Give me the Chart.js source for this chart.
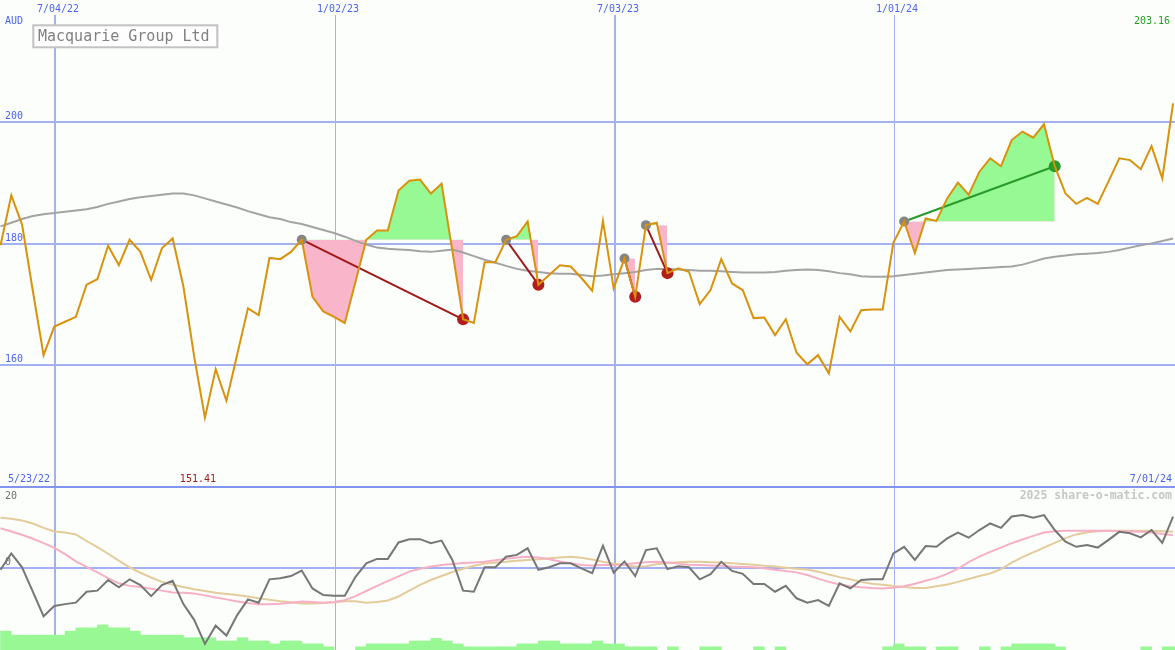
<!DOCTYPE html>
<html>
<head>
<meta charset="utf-8">
<title>Macquarie Group Ltd</title>
<script src="https://cdn.jsdelivr.net/npm/chart.js@4.4.1/dist/chart.umd.min.js"></script>
<style>
  html, body { margin: 0; padding: 0; background: #fcfefc; }
  #wrap { position: relative; width: 1175px; height: 650px; overflow: hidden; }
  canvas { position: absolute; left: 0; }
  #priceCanvas { top: 0; }
  #oscCanvas { top: 486px; }
</style>
</head>
<body>
<div id="wrap">
  <canvas id="priceCanvas" width="1175" height="486"></canvas>
  <canvas id="oscCanvas" width="1175" height="164"></canvas>
</div>
<script>
// --- datos (semanal, 110 puntos) ---
const title = 'Macquarie Group Ltd';
const currency = 'AUD';
const startDate = '5/23/22';
const endDate = '7/01/24';
const dateLabels = ['7/04/22', '1/02/23', '7/03/23', '1/01/24'];
const dateIdx = [5, 31, 57, 83];
const dateMajor = [true, false, true, false];
const priceTicks = [200, 180, 160];
const oscTicks = [20, 0, -20];

const price = [
  179.8, 188.0, 183.2, 172.3, 161.7, 166.4, 167.2, 168.0, 173.3, 174.2,
  179.7, 176.5, 180.7, 178.7, 174.1, 179.3, 180.9, 173.0, 161.5, 151.41,
  159.4, 154.2, 161.8, 169.4, 168.3, 177.7, 177.5, 178.7, 180.7, 171.3,
  168.9, 168.0, 167.0, 173.8, 180.7, 182.2, 182.2, 188.8, 190.4, 190.6,
  188.3, 189.9, 178.9, 167.6, 167.0, 177.0, 177.0, 180.7, 181.3, 183.7,
  173.3, 174.9, 176.5, 176.3, 174.4, 172.3, 183.8, 172.7, 177.6, 171.3,
  183.1, 183.5, 175.2, 176.0, 175.4, 170.1, 172.4, 177.5, 173.5, 172.4,
  167.8, 167.9, 165.0, 167.6, 162.1, 160.2, 161.7, 158.7, 168.0, 165.6,
  169.1, 169.2, 169.2, 180.2, 183.7, 178.5, 184.2, 183.8, 187.5, 190.1,
  188.1, 191.9, 194.1, 192.8, 197.1, 198.5, 197.5, 199.7, 192.8, 188.3,
  186.6, 187.6, 186.6, 190.3, 194.1, 193.8, 192.3, 196.1, 190.8, 203.16
];

const movingAvg = [
  182.9, 183.5, 184.1, 184.6, 184.9, 185.1, 185.3, 185.5, 185.7, 186.1,
  186.6, 187.0, 187.4, 187.7, 187.9, 188.1, 188.3, 188.3, 188.0, 187.5,
  187.0, 186.5, 186.0, 185.4, 184.9, 184.4, 184.1, 183.6, 183.3, 182.8,
  182.3, 181.8, 181.2, 180.5, 179.9, 179.4, 179.2, 179.1, 179.0, 178.8,
  178.7, 178.9, 179.1, 178.6, 178.0, 177.4, 176.9, 176.4, 175.9, 175.6,
  175.4, 175.2, 175.1, 175.1, 174.9, 174.7, 174.8, 175.0, 175.2, 175.4,
  175.7, 175.9, 175.9, 175.8, 175.7, 175.6, 175.6, 175.5, 175.4, 175.3,
  175.3, 175.3, 175.4, 175.6, 175.7, 175.8, 175.7, 175.5, 175.2, 175.0,
  174.7, 174.6, 174.6, 174.7, 174.9, 175.1, 175.3, 175.5, 175.7, 175.8,
  175.9, 176.0, 176.1, 176.2, 176.3, 176.6, 177.1, 177.6, 177.9, 178.1,
  178.3, 178.4, 178.5, 178.7, 179.0, 179.4, 179.8, 180.1, 180.5, 180.9
];

// operaciones: entrada / salida (índices de semana)
const tradeEntry = [28, 47, 58, 60, 84];
const tradeExit = [43, 50, 59, 62, 98];

// panel inferior
const osc = [
  -0.5, 4.0, 0.2, -6.5, -13.2, -10.4, -9.9, -9.5, -6.5, -6.2,
  -3.3, -5.3, -3.1, -4.7, -7.7, -4.7, -3.5, -9.9, -14.2, -20.8,
  -15.8, -18.5, -12.9, -8.6, -9.5, -3.1, -2.8, -2.2, -0.7, -5.6,
  -7.4, -7.6, -7.6, -2.4, 1.3, 2.5, 2.5, 7.0, 7.9, 7.9,
  6.8, 7.5, 2.2, -6.2, -6.5, 0.2, 0.2, 3.1, 3.6, 5.4,
  -0.5, 0.2, 1.3, 1.3, -0.1, -1.4, 6.1, -1.3, 1.8, -2.2,
  4.9, 5.4, -0.3, 0.5, 0.2, -3.1, -1.7, 1.7, -0.8, -1.6,
  -4.4, -4.4, -6.5, -4.9, -8.3, -9.5, -8.8, -10.4, -4.2, -5.6,
  -3.3, -3.1, -3.1, 4.0, 5.8, 2.2, 6.0, 5.8, 8.1, 9.7,
  8.3, 10.4, 12.2, 11.0, 14.1, 14.5, 13.8, 14.5, 10.4, 7.2,
  5.8, 6.3, 5.6, 7.7, 9.9, 9.5, 8.4, 10.4, 6.9, 14.1
];

const oscPink = [
  10.9, 10.0, 9.1, 8.0, 6.8, 5.5, 3.8, 1.8, 0.3, -1.2,
  -2.8, -4.2, -4.9, -5.2, -5.7, -6.2, -6.7, -6.8, -7.0, -7.5,
  -8.1, -8.6, -9.2, -9.6, -9.9, -9.9, -9.8, -9.5, -9.2, -9.3,
  -9.5, -9.3, -8.8, -7.7, -6.3, -4.9, -3.6, -2.3, -1.0, -0.2,
  0.4, 0.8, 1.1, 1.4, 1.5, 1.7, 2.1, 2.5, 2.9, 3.1,
  2.9, 2.4, 1.8, 1.3, 0.8, 0.7, 0.8, 0.8, 1.0, 1.3,
  1.6, 1.7, 1.5, 1.2, 0.9, 0.8, 0.7, 0.6, 0.4, 0.3,
  0.2, -0.1, -0.5, -0.8, -1.2, -1.9, -2.9, -3.8, -4.5, -5.0,
  -5.3, -5.5, -5.6, -5.4, -5.0, -4.3, -3.5, -2.7, -1.6, -0.2,
  1.6, 3.1, 4.4, 5.6, 6.8, 7.8, 8.8, 9.7, 10.1, 10.2,
  10.2, 10.2, 10.2, 10.2, 10.1, 10.0, 9.9, 9.7, 9.3, 9.0
];

const oscTan = [
  13.8, 13.5, 13.0, 12.2, 11.0, 10.0, 9.7, 9.2, 7.4, 5.7,
  3.9, 2.0, 0.2, -1.3, -2.6, -3.8, -4.6, -5.2, -5.8, -6.3,
  -6.8, -7.1, -7.4, -7.8, -8.3, -8.7, -9.1, -9.4, -9.7, -9.7,
  -9.6, -9.4, -9.1, -9.1, -9.5, -9.3, -8.9, -7.8, -6.2, -4.6,
  -3.3, -2.2, -1.1, -0.2, 0.6, 1.2, 1.5, 1.7, 2.0, 2.2,
  2.4, 2.7, 2.9, 3.1, 2.8, 2.3, 1.7, 1.2, 0.8, 0.4,
  0.5, 1.0, 1.4, 1.6, 1.7, 1.7, 1.6, 1.5, 1.3, 1.1,
  0.9, 0.6, 0.4, 0.1, -0.2, -0.4, -1.0, -1.8, -2.5, -3.1,
  -3.8, -4.3, -4.6, -4.9, -5.2, -5.5, -5.5, -5.0, -4.5, -3.8,
  -3.0, -2.2, -1.5, -0.3, 1.5, 3.0, 4.3, 5.6, 6.9, 8.2,
  9.2, 9.8, 10.1, 10.2, 10.2, 10.2, 10.2, 10.2, 10.1, 9.9
];

// histograma verde (null = sin barra)
const hist = [
  -17.3, -18.4, -18.4, -18.4, -18.4, -18.4, -17.3, -16.4, -16.4, -15.6,
  -16.4, -16.4, -17.3, -18.4, -18.4, -18.4, -18.4, -19.1, -19.1, -19.1,
  -20.0, -20.0, -19.1, -20.0, -20.0, -20.8, -20.0, -20.0, -20.8, -20.8,
  -21.6, null, null, -21.6, -20.8, -20.8, -20.8, -20.8, -20.0, -20.0,
  -19.3, -20.0, -20.8, -21.6, -21.6, -21.6, -21.6, -21.6, -20.8, -20.8,
  -20.0, -20.0, -20.8, -20.8, -20.8, -20.0, -20.8, -20.8, -21.6, -21.6,
  -21.6, null, -21.6, null, null, -21.6, -21.6, null, null, null,
  -21.6, null, -21.6, null, null, null, null, null, null, null,
  null, null, -21.6, -20.8, -21.6, -21.6, null, -21.6, -21.6, null,
  null, -21.6, null, -21.6, -20.8, -20.8, -20.8, -20.8, -21.6, null,
  null, null, null, null, null, null, -21.6, null, -21.6, -21.6
];

// --- estilos ---
const MONO = '"DejaVu Sans Mono", "Liberation Mono", monospace';
const GRID = '#a3b1f2';
const LABEL_BLUE = '#4a64ee';
const PINK_FILL = '#f9b5c9';
const GREEN_FILL = '#96f993';
const X_MIN = -0.05, X_MAX = 109.18;
const OSC_MIN = -22.47, OSC_MAX = 22.47;

const pts = arr => arr.map((v, i) => ({ x: i, y: v }));

function drawText(ctx, txt, x, y, color, align, font) {
  ctx.font = font || ('10px ' + MONO);
  ctx.fillStyle = color;
  ctx.textAlign = align || 'left';
  ctx.textBaseline = 'middle';
  ctx.fillText(txt, x, y);
}

function drawDateLines(chart, top) {
  const { ctx, scales: { x } } = chart;
  ctx.fillStyle = GRID;
  dateIdx.forEach((k, i) => {
    const px = Math.round(x.getPixelForValue(k)) + 1;
    if (dateMajor[i]) ctx.fillRect(px - 1, top, 2, chart.height - top);
    else ctx.fillRect(px, top, 1, chart.height - top);
  });
}

// Grilla, textos y recuadro del título (panel de precios)
const priceDecor = {
  id: 'priceDecor',
  beforeDatasetsDraw(chart) {
    const { ctx, width, scales: { x, y } } = chart;
    ctx.save();
    ctx.fillStyle = GRID;
    priceTicks.forEach(v => {
      const py = Math.round(y.getPixelForValue(v));
      ctx.fillRect(0, py - 1, width, 2);
    });
    drawDateLines(chart, 15);

    // etiquetas
    priceTicks.forEach(v => drawText(ctx, String(v), 5, Math.round(y.getPixelForValue(v)) - 6, LABEL_BLUE));
    drawText(ctx, currency, 5, 21, LABEL_BLUE);
    dateIdx.forEach((k, i) => {
      drawText(ctx, dateLabels[i], Math.round(x.getPixelForValue(k)) + 4, 9, LABEL_BLUE, 'center');
    });
    drawText(ctx, price[price.length - 1].toFixed(2), 1170, 21, '#22a022', 'right');
    drawText(ctx, startDate, 8, 479, LABEL_BLUE);
    drawText(ctx, endDate, 1172, 479, LABEL_BLUE, 'right');
    const minVal = Math.min(...price);
    const minIdx = price.indexOf(minVal);
    drawText(ctx, minVal.toFixed(2), x.getPixelForValue(minIdx) - 7, 479, '#a81c1c', 'center');

    // título
    ctx.fillStyle = '#fdfefd';
    ctx.fillRect(33, 25, 185, 23);
    ctx.strokeStyle = '#c4c0c4';
    ctx.lineWidth = 2;
    ctx.strokeRect(33.3, 25.3, 184, 22);
    drawText(ctx, title, 38, 37, '#808080', 'left', '15px ' + MONO);
    ctx.restore();
  }
};

// Grilla y textos del panel inferior
const oscDecor = {
  id: 'oscDecor',
  beforeDatasetsDraw(chart) {
    const { ctx, width, scales: { y } } = chart;
    ctx.save();
    ctx.fillStyle = '#8393f0';
    ctx.fillRect(0, 0, width, 2);
    drawDateLines(chart, 2);
    ctx.fillStyle = GRID;
    const zy = Math.round(y.getPixelForValue(0));
    ctx.fillRect(0, zy - 1, width, 2);
    oscTicks.forEach(v => {
      const off = v === 0 ? -6 : 1;
      drawText(ctx, String(v), 5, Math.round(y.getPixelForValue(v)) + off, '#6e6e6e');
    });
    drawText(ctx, '2025 share-o-matic.com', 1172, 10, '#c6c6c6', 'right', 'bold 11.5px ' + MONO);
    ctx.restore();
  }
};

// --- datasets del panel de precios ---
const priceDatasets = [];

priceDatasets.push({
  label: 'Precio', data: pts(price), borderColor: '#d8920c', borderWidth: 2, order: 1
});

tradeEntry.forEach((e, i) => {
  const x = tradeExit[i];
  const win = price[x] > price[e];
  priceDatasets.push({
    label: 'Operación ' + (i + 1),
    data: [{ x: e, y: price[e] }, { x: x, y: price[x] }],
    borderColor: win ? '#2a9a2a' : '#a01818',
    borderWidth: 2,
    pointRadius: [5, 6],
    pointBackgroundColor: ['#858585', win ? '#2a9a2a' : '#b01e1e'],
    pointBorderWidth: 0,
    order: 2
  });
  // relleno entre precio y nivel de entrada
  priceDatasets.push({
    label: 'Relleno ' + (i + 1),
    data: pts(price).slice(e, x + 1),
    borderWidth: 0,
    borderColor: 'rgba(0,0,0,0)',
    fill: { target: { value: price[e] }, above: GREEN_FILL, below: PINK_FILL },
    order: 5
  });
});

priceDatasets.push({
  label: 'Media', data: pts(movingAvg), borderColor: '#a3a3a3', borderWidth: 2, order: 3
});

const baseOptions = (yMin, yMax) => ({
  responsive: false,
  animation: false,
  devicePixelRatio: 1,
  layout: { padding: 0, autoPadding: false },
  plugins: { legend: { display: false }, tooltip: { enabled: false } },
  elements: { point: { radius: 0, hoverRadius: 0 }, line: { tension: 0 } },
  scales: {
    x: { type: 'linear', display: false, min: X_MIN, max: X_MAX, offset: false },
    y: { display: false, min: yMin, max: yMax }
  }
});

new Chart(document.getElementById('priceCanvas'), {
  type: 'line',
  data: { datasets: priceDatasets },
  options: baseOptions(140.16, 220.16),
  plugins: [priceDecor]
});

// --- panel inferior ---
const histData = [];
hist.forEach((v, k) => { if (v !== null) histData.push({ x: k + 0.5, y: [OSC_MIN, v] }); });

new Chart(document.getElementById('oscCanvas'), {
  type: 'line',
  data: {
    datasets: [
      { label: 'Oscilador', data: pts(osc), borderColor: '#767676', borderWidth: 2, order: 1 },
      { label: 'Rosa', data: pts(oscPink), borderColor: '#f7afc6', borderWidth: 2, order: 2 },
      { label: 'Tostado', data: pts(oscTan), borderColor: '#e3cb9b', borderWidth: 2, order: 3 },
      {
        type: 'bar', label: 'Histograma', data: histData,
        backgroundColor: '#98f894', borderWidth: 0,
        barPercentage: 1, categoryPercentage: 1, order: 4
      }
    ]
  },
  options: baseOptions(OSC_MIN, OSC_MAX),
  plugins: [oscDecor]
});
</script>
</body>
</html>
